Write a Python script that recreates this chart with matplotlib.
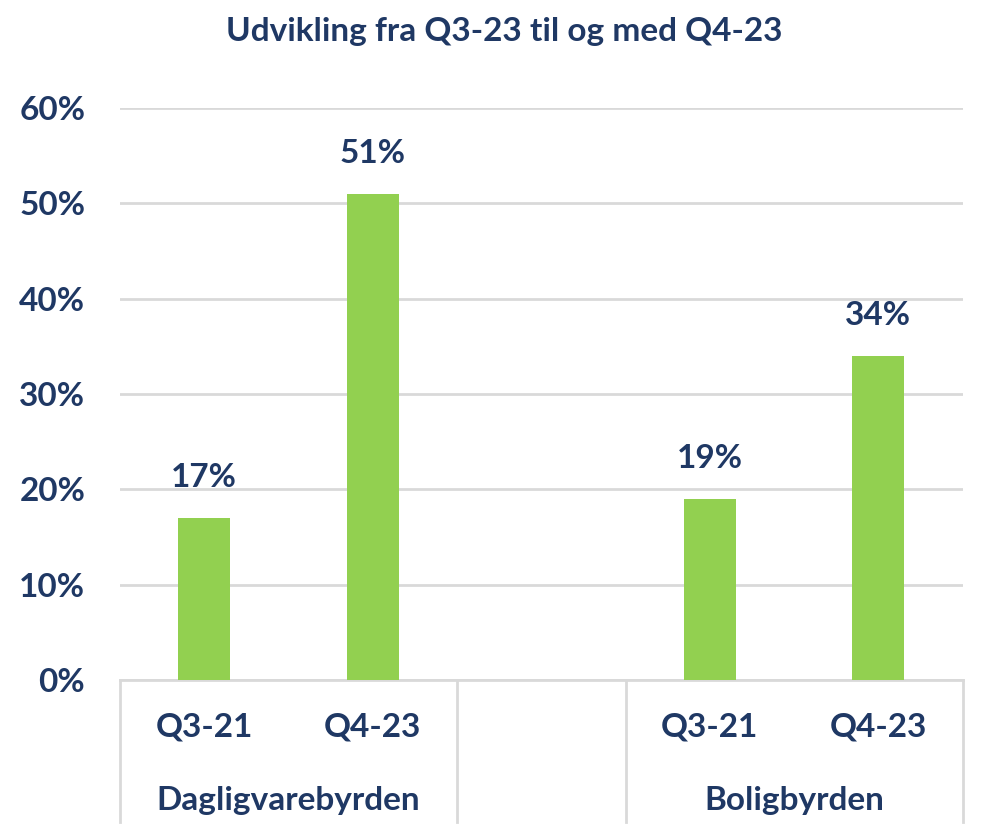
import matplotlib
matplotlib.use("Agg")
import matplotlib.pyplot as plt
import matplotlib.transforms as mtransforms
from matplotlib.ticker import FuncFormatter

title = "Udvikling fra Q3-23 til og med Q4-23"
groups = ["Dagligvarebyrden", "", "Boligbyrden"]
periods = ["Q3-21", "Q4-23"]
dagligvare_values = [17, 51]
bolig_values = [19, 34]
y_ticks = [0, 10, 20, 30, 40, 50, 60]

navy = "#1F3864"
green = "#92D050"
grid = "#D9D9D9"
plt.rcParams['font.family'] = ['Lato', 'DejaVu Sans']
FS = 24

fig = plt.figure(figsize=(10.08, 8.4), dpi=100)
ax = fig.add_axes([0.119, 0.1905, 0.836, 0.681])

# slot layout: group1 (2 slots), empty slot, group2 (2 slots)
series = [dagligvare_values, [], bolig_values]
slot = 0
xs, vals, labs = [], [], []
group_spans = []
for g, vs in zip(groups, series):
    n = len(vs) if vs else 1
    start = slot
    for i, v in enumerate(vs):
        xs.append(slot + i)
        vals.append(v)
        labs.append(periods[i])
    group_spans.append((g, start, start + n))
    slot += n

ax.bar(xs, vals, width=0.31, color=green, zorder=3)
ax.set_xlim(-0.5, slot - 0.5)
ax.set_ylim(0, 60)
ax.set_yticks(y_ticks)
ax.yaxis.set_major_formatter(FuncFormatter(lambda v, p: f"{v:.0f}%"))
ax.tick_params(axis='y', length=0, pad=25, labelsize=FS, labelcolor=navy)
for t in ax.get_yticklabels():
    t.set_fontweight('bold')
ax.set_xticks([])
ax.grid(axis='y', color=grid, linewidth=2, zorder=0)
for s in ['top', 'right', 'left']:
    ax.spines[s].set_visible(False)
ax.spines['bottom'].set_color(grid)
ax.spines['bottom'].set_linewidth(2)

for x, v in zip(xs, vals):
    ax.annotate(f"{v}%", (x, v), xytext=(0, 40), textcoords='offset pixels',
                ha='center', va='center', fontsize=FS, fontweight='bold', color=navy)

trans = mtransforms.blended_transform_factory(ax.transData, ax.transAxes)
for x, l in zip(xs, labs):
    ax.text(x, -0.082, l, transform=trans, ha='center', va='center',
            fontsize=FS, fontweight='bold', color=navy)

bounds = set()
for g, a, b in group_spans:
    bounds.add(a - 0.5)
    bounds.add(b - 0.5)
    if g:
        ax.text((a + b - 1) / 2, -0.21, g, transform=trans, ha='center', va='center',
                fontsize=FS, fontweight='bold', color=navy)
for bx in sorted(bounds):
    ax.plot([bx, bx], [0, -0.248], transform=trans, color=grid, linewidth=2,
            clip_on=False, zorder=1)

fig.text(0.5, 1 - 32 / 840, title, ha='center', va='center', fontsize=FS,
         fontweight='bold', color=navy)

fig.savefig("out.png", dpi=100, facecolor='white')
